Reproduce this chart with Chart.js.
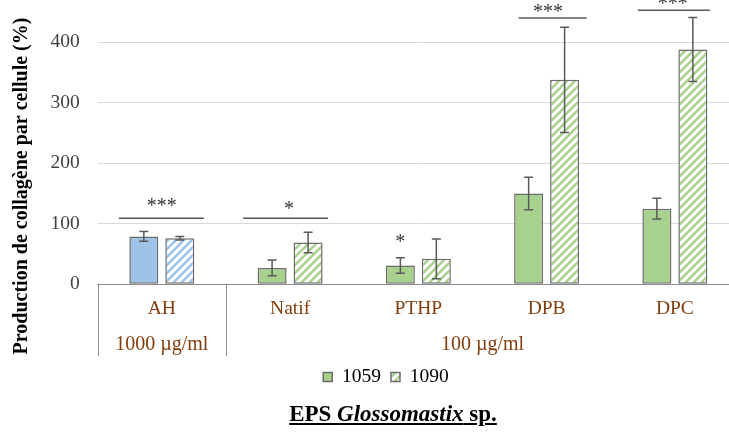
<!DOCTYPE html>
<html>
<head>
<meta charset="utf-8">
<script src="https://cdn.jsdelivr.net/npm/chart.js@4.4.1/dist/chart.umd.min.js"></script>
<style>
  html, body { margin: 0; padding: 0; overflow: hidden; background: #fff; }
  #wrap { position: relative; width: 745px; height: 432px; }
  #title {
    position: absolute; left: 0; top: 401px; width: 786px;
    text-align: center; font: bold 23px "Liberation Serif", "Times New Roman", serif;
    text-decoration: underline; color: #000;
  }
</style>
</head>
<body>
<div id="wrap">
  <canvas id="chart" width="745" height="432"></canvas>
  <div id="title">EPS <i>Glossomastix</i> sp.</div>
</div>
<script>
const categories = ['AH', 'Natif', 'PTHP', 'DPB', 'DPC'];
const groupLabels = ['1000 µg/ml', '100 µg/ml'];
const groupSizes = [1, 4];
const seriesNames = ['1059', '1090'];
const values1059 = [79, 27, 31, 150, 125];
const values1090 = [76, 69, 42, 338, 388];
const errors1059 = [8, 13, 13, 27, 17];
const errors1090 = [3, 17, 33, 87, 53];
const yTicks = [0, 100, 200, 300, 400];
// significance: category index, marks, bracket level (%)
const sigIndex = [0, 1, 3, 4];
const sigMarks = ['***', '*', '***', '***'];
const sigLevels = [109, 109, 440, 453];
// single star over the 1059 bar of PTHP
const barStarIndex = [2];
const barStarLevels = [73];

const FONT = '"Liberation Serif", "Times New Roman", serif';
const blue = '#9dc3e6';
const green = '#a9d18e';
const edge = '#6b6b6b';

function hatch(color) {
  const c = document.createElement('canvas');
  c.width = 8; c.height = 8;
  const g = c.getContext('2d');
  g.fillStyle = '#fff';
  g.fillRect(0, 0, 8, 8);
  g.strokeStyle = color;
  g.lineWidth = 2.6;
  g.beginPath();
  g.moveTo(-4, 4); g.lineTo(4, -4);
  g.moveTo(0, 8); g.lineTo(8, 0);
  g.moveTo(4, 12); g.lineTo(12, 4);
  g.stroke();
  return g.createPattern(c, 'repeat');
}
const blueHatch = hatch(blue);
const greenHatch = hatch(green);

// span of the brackets around the category centre (px)
const sigSpan = [[-43, 42], [-47, 38], [-28, 40], [-37, 35]];
const starShift = [0, -1, 1.5, -2];
const starLift = [15, 12, 8, 8];

const annotate = {
  id: 'annotate',
  afterDatasetsDraw(chart) {
    const ctx = chart.ctx, xs = chart.scales.x, ys = chart.scales.y;
    ctx.save();
    // error bars
    ctx.strokeStyle = '#595959';
    ctx.lineWidth = 1.5;
    [errors1059, errors1090].forEach((errs, d) => {
      const vals = chart.data.datasets[d].data;
      chart.getDatasetMeta(d).data.forEach((bar, i) => {
        const top = ys.getPixelForValue(vals[i] + errs[i]);
        const bot = ys.getPixelForValue(vals[i] - errs[i]);
        ctx.beginPath();
        ctx.moveTo(bar.x, top); ctx.lineTo(bar.x, bot);
        ctx.moveTo(bar.x - 4.5, top); ctx.lineTo(bar.x + 4.5, top);
        ctx.moveTo(bar.x - 4.5, bot); ctx.lineTo(bar.x + 4.5, bot);
        ctx.stroke();
      });
    });
    // significance brackets
    ctx.font = '20px ' + FONT;
    ctx.fillStyle = '#333';
    ctx.textAlign = 'center';
    ctx.textBaseline = 'middle';
    sigIndex.forEach((ci, k) => {
      const cx = xs.getPixelForValue(ci);
      const ly = ys.getPixelForValue(sigLevels[k]);
      ctx.beginPath();
      ctx.moveTo(cx + sigSpan[k][0], ly);
      ctx.lineTo(cx + sigSpan[k][1], ly);
      ctx.stroke();
      ctx.fillText(sigMarks[k], cx + starShift[k], ly - starLift[k] + 3);
    });
    barStarIndex.forEach((ci, k) => {
      const bar = chart.getDatasetMeta(0).data[ci];
      ctx.fillText('*', bar.x, ys.getPixelForValue(barStarLevels[k]) + 3);
    });
    // group separators and group labels
    const axisY = chart.chartArea.bottom;
    ctx.strokeStyle = '#8c8c8c';
    ctx.lineWidth = 1;
    let start = 0;
    const edges = [xs.getPixelForValue(-0.5)];
    groupSizes.forEach(n => { start += n; edges.push(xs.getPixelForValue(start - 0.5)); });
    edges.forEach(px => {
      ctx.beginPath();
      ctx.moveTo(Math.round(px) + 0.5, axisY);
      ctx.lineTo(Math.round(px) + 0.5, axisY + 72);
      ctx.stroke();
    });
    ctx.font = '20px ' + FONT;
    ctx.fillStyle = '#843C0C';
    groupLabels.forEach((g, k) => {
      ctx.fillText(g, (edges[k] + edges[k + 1]) / 2, axisY + 60);
    });
    // y axis title
    ctx.translate(22, 186);
    ctx.rotate(-Math.PI / 2);
    ctx.font = 'bold 20px ' + FONT;
    ctx.fillStyle = '#000';
    ctx.fillText('Production de collagène par cellule (%)', 0, 0);
    ctx.restore();
  }
};

new Chart(document.getElementById('chart'), {
  type: 'bar',
  data: {
    labels: categories,
    datasets: [
      {
        label: seriesNames[0],
        data: values1059,
        backgroundColor: categories.map((c, i) => i === 0 ? blue : green),
        borderColor: edge,
        borderWidth: 1.5,
        borderSkipped: false
      },
      {
        label: seriesNames[1],
        data: values1090,
        backgroundColor: categories.map((c, i) => i === 0 ? blueHatch : greenHatch),
        borderColor: edge,
        borderWidth: 1.5,
        borderSkipped: false
      }
    ]
  },
  options: {
    responsive: false,
    animation: false,
    devicePixelRatio: 1,
    layout: { padding: { left: 33, right: 6, top: 12, bottom: 35.25 } },
    datasets: { bar: { categoryPercentage: 0.561, barPercentage: 0.806 } },
    scales: {
      x: {
        offset: true,
        grid: { display: true, drawOnChartArea: false, drawTicks: false },
        border: { display: true, color: '#8c8c8c', width: 1 },
        ticks: { color: '#843C0C', font: { family: FONT, size: 19.5 }, padding: 13 },
        afterFit: s => { s.height = 73; s.paddingLeft = 0; s.paddingRight = 0; }
      },
      y: {
        min: 0,
        max: 450,
        grid: { color: '#d9d9d9', lineWidth: 1, drawTicks: false },
        border: { display: false },
        ticks: { color: '#404040', font: { family: FONT, size: 19.5 }, padding: 18 },
        afterBuildTicks: s => { s.ticks = yTicks.map(v => ({ value: v })); },
        afterFit: s => { s.width = 64.7; s.paddingTop = 0; s.paddingBottom = 0; }
      }
    },
    plugins: {
      legend: {
        position: 'bottom',
        labels: {
          font: { family: FONT, size: 19.5 },
          color: '#000',
          boxWidth: 9,
          boxHeight: 9,
          padding: 10,
          generateLabels: () => seriesNames.map((n, i) => ({
            text: n,
            fillStyle: i ? greenHatch : green,
            strokeStyle: edge,
            lineWidth: 1.5,
            hidden: false,
            datasetIndex: i
          }))
        }
      },
      tooltip: { enabled: false }
    }
  },
  plugins: [annotate]
});
</script>
</body>
</html>
